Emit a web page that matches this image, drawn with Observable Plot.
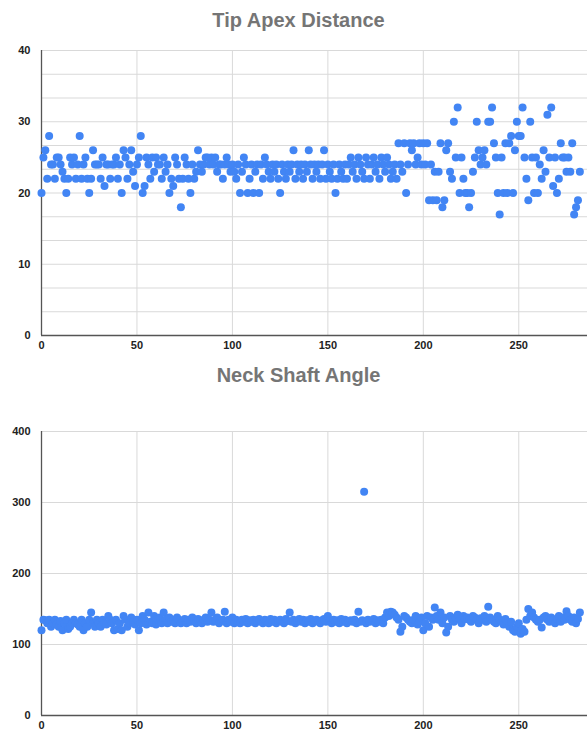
<!DOCTYPE html>
<html><head><meta charset="utf-8">
<script src="https://cdn.jsdelivr.net/npm/d3@7"></script>
<script src="https://cdn.jsdelivr.net/npm/@observablehq/plot@0.6"></script>
<style>
body{margin:0;background:#fff;font-family:"Liberation Sans",Arial,sans-serif;}
#wrap{position:relative;width:587px;height:732px;overflow:hidden;}
.title{position:absolute;left:0;width:597px;text-align:center;font-weight:bold;font-size:20px;color:#757575;}
.chart{position:absolute;left:0;}
</style></head><body>
<div id="wrap">
<div class="title" style="top:9px">Tip Apex Distance</div>
<div class="chart" id="c1" style="top:40px"></div>
<div class="title" style="top:364px">Neck Shaft Angle</div>
<div class="chart" id="c2" style="top:421px"></div>
</div>
<script>
const titles = ["Tip Apex Distance", "Neck Shaft Angle"];
const xTicks = [0, 50, 100, 150, 200, 250];
const yTicksTop = [0, 10, 20, 30, 40];
const yTicksBottom = [0, 100, 200, 300, 400];

// Tip Apex Distance, one value per row index
const tipApex = [
20,25,26,22,28,24,24,22,25,25,24,23,22,20,22,25,24,25,22,24,
28,22,24,25,22,20,22,26,24,24,24,22,25,21,24,24,22,24,24,25,
22,24,20,26,25,22,24,26,23,21,24,25,28,20,21,25,24,22,25,23,
25,24,24,22,25,23,24,20,
22,21,25,24,22,18,22,25,24,22,20,24,22,23,26,24,23,24,25,25,
24,25,24,25,23,24,24,22,24,25,24,23,24,23,22,24,20,23,25,24,
20,22,24,20,23,24,20,24,22,25,24,23,22,24,23,24,22,20,24,23,
22,24,23,24,26,22,24,23,
24,22,24,23,26,24,22,24,23,24,22,24,26,22,24,23,22,24,20,22,
24,23,22,24,22,24,25,23,24,22,25,24,23,22,25,24,22,24,25,23,
24,22,25,24,23,25,24,22,23,24,22,27,24,23,27,20,24,27,26,27,
24,25,27,24,27,24,27,19,
24,19,23,19,23,27,18,19,26,27,23,22,30,25,32,20,25,22,20,20,
18,20,23,25,30,26,24,25,26,24,30,30,32,27,25,20,17,25,20,27,
20,27,28,20,26,30,28,28,32,25,22,19,30,25,20,25,20,24,22,26,
23,31,25,32,21,25,20,22,27,25,25,23,25,23,27,17,18,19,23
];

// Neck Shaft Angle, one value per row index
const neckShaft = [
120,135,134,130,135,125,130,135,128,125,133,120,130,135,122,125,130,135,130,128,
125,135,120,130,125,135,145,130,125,135,130,125,135,130,128,140,135,130,120,135,
122,130,120,140,135,125,130,138,132,128,135,120,130,140,135,128,145,132,130,140,
128,135,138,130,145,135,130,138,
132,135,130,138,135,130,133,136,130,135,132,138,135,130,136,133,130,135,138,132,
135,145,132,135,138,130,133,135,146,130,135,132,138,130,135,133,130,135,132,136,
130,134,132,135,130,133,136,132,130,135,133,130,136,132,135,130,133,135,132,130,
136,133,145,132,135,130,133,136,
132,135,130,134,132,136,130,133,135,132,130,134,136,132,140,133,130,135,132,134,
130,136,132,135,130,133,134,132,135,130,146,132,134,315,130,135,132,133,136,130,
134,132,135,130,138,145,140,146,145,142,138,135,118,125,140,138,135,132,130,135,
140,128,132,138,120,130,140,125,138,
135,152,140,135,145,130,138,117,125,140,135,132,138,142,135,130,140,136,138,135,
132,140,138,135,130,137,135,140,132,153,138,135,132,130,140,135,132,128,136,130,
125,132,120,118,125,130,115,122,118,135,150,140,145,138,135,132,135,124,138,140,
135,132,138,135,130,136,140,132,138,135,147,140,135,132,138,130,136,145
];

function makeChart(values, yMax, yTicks, yGrid, height, marginBottom) {
  const data = values.map((v, i) => ({i, v}));
  return Plot.plot({
    width: 587, height,
    marginLeft: 41, marginRight: 0, marginTop: 10, marginBottom,
    style: {fontFamily: "'Liberation Sans', Arial, sans-serif", fontSize: "11px", fontWeight: "bold", color: "#222", background: "white", overflow: "visible"},
    x: {domain: [0, 286], ticks: xTicks, tickSize: 0, tickPadding: 6, label: null},
    y: {domain: [0, yMax], ticks: yTicks, tickSize: 0, tickPadding: 11, label: null},
    marks: [
      Plot.gridY(yGrid, {stroke: "#d9d9d9", strokeOpacity: 1}),
      Plot.gridX(xTicks, {stroke: "#d9d9d9", strokeOpacity: 1}),
      Plot.ruleX([0], {stroke: "#555", strokeWidth: 1.3}),
      Plot.ruleY([0], {stroke: "#555", strokeWidth: 1.3}),
      Plot.dot(data, {x: "i", y: "v", r: 4, fill: "#4285f4", stroke: "none"})
    ]
  });
}

const gridTop = d3.range(0, 12).map(k => k * 10 / 3).concat([40]);
document.getElementById("c1").appendChild(makeChart(tipApex, 40, yTicksTop, gridTop, 320, 25));
document.getElementById("c2").appendChild(makeChart(neckShaft, 400, yTicksBottom, yTicksBottom, 311, 17));
</script>
</body></html>
